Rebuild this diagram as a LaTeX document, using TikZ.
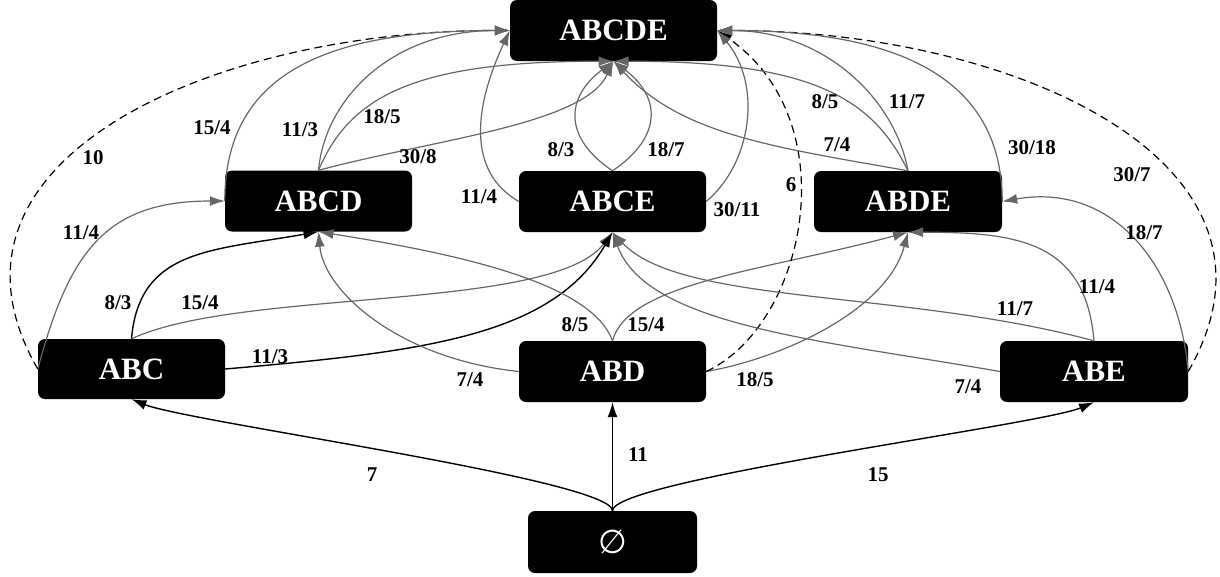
\documentclass[tikz,border=0pt]{standalone}
\usepackage{fontspec}
\setmainfont{Liberation Serif}
\newfontfamily\symf{DejaVu Sans}
\usetikzlibrary{arrows.meta}
\definecolor{gline}{HTML}{666666}
\tikzset{
  st/.style={fill=black, rounded corners=7pt, text=white, font=\bfseries\fontsize{31}{31}\selectfont, minimum height=61pt, inner sep=0pt},
  lab/.style={font=\bfseries\fontsize{21}{21}\selectfont, inner sep=0pt},
  tip/.style={-{Latex[length=15pt,width=10pt]}},
  ge/.style={draw=gline, line width=1.2pt, tip},
  be/.style={draw=black, line width=1.4pt, tip},
  de/.style={draw=black, line width=1.2pt, dash pattern=on 8pt off 5pt, tip},
}
\begin{document}
\begin{tikzpicture}[x=1pt,y=1pt]
\useasboundingbox (0,0) rectangle (1220,-576);
% nodes
\node[st, minimum width=207pt] (ABCDE) at (613.5,-30.5) {ABCDE};
\node[st, minimum width=187pt] (ABCD) at (318.5,-201) {ABCD};
\node[st, minimum width=187pt] (ABCE) at (612.5,-201.5) {ABCE};
\node[st, minimum width=188pt] (ABDE) at (908,-201.5) {ABDE};
\node[st, minimum width=187pt, minimum height=60pt] (ABC) at (131.5,-369) {ABC};
\node[st, minimum width=187pt] (ABD) at (612.5,-371.5) {ABD};
\node[st, minimum width=188pt] (ABE) at (1094,-371.5) {ABE};
\node[st, minimum width=169pt, minimum height=62pt, font=\symf\fontsize{33}{33}\selectfont] (E) at (612.5,-542) {∅};
% edges from the empty set
\draw[be] (E.north) to[out=90,in=-22,out distance=31pt,in distance=61pt] (ABC.south);
\draw[be] (E.north) -- (ABD.south);
\draw[be] (E.north) to[out=90,in=-157,out distance=31pt,in distance=59pt] (ABE.south);
% edges from ABC
\draw[ge] (ABC.west) to[out=75,in=180,out distance=120pt,in distance=120pt] (ABCD.west);
\draw[de] (ABC.west) to[out=120,in=180,out distance=240pt,in distance=300pt] (ABCDE.west);
\draw[be] (ABC.north) to[out=85,in=190,out distance=90pt,in distance=110pt] (ABCD.south);
\draw[ge] (ABC.north) to[out=25,in=-127,out distance=120pt,in distance=100pt] (ABCE.south);
\draw[be] (ABC.east) to[out=5,in=-120,out distance=200pt,in distance=120pt] (ABCE.south);
% edges from ABD
\draw[ge] (ABD.north) to[out=110,in=-9,out distance=60pt,in distance=150pt] (ABCD.south);
\draw[ge] (ABD.north) to[out=75,in=195,out distance=60pt,in distance=150pt] (ABDE.south);
\draw[ge] (ABD.west) to[out=174,in=-85,out distance=120pt,in distance=60pt] (ABCD.south);
\draw[ge] (ABD.east) to[out=10,in=-105,out distance=80pt,in distance=80pt] (ABDE.south);
\draw[de] (ABD.east) to[out=25,in=-35,out distance=110pt,in distance=160pt] (ABCDE.east);
% edges from ABE
\draw[ge] (ABE.east) to[out=95,in=10,out distance=110pt,in distance=110pt] (ABDE.east);
\draw[ge] (ABE.north) to[out=95,in=0,out distance=100pt,in distance=110pt] (ABDE.south);
\draw[ge] (ABE.north) to[out=165,in=-47,out distance=200pt,in distance=100pt] (ABCE.south);
\draw[ge] (ABE.west) to[out=170,in=-70,out distance=180pt,in distance=100pt] (ABCE.south);
\draw[de] (ABE.east) to[out=60,in=0,out distance=240pt,in distance=300pt] (ABCDE.east);
% edges from ABCD
\draw[ge] (ABCD.west) to[out=90,in=180,out distance=130pt,in distance=180pt] (ABCDE.west);
\draw[ge] (ABCD.north) to[out=85,in=180,out distance=70pt,in distance=120pt] (ABCDE.west);
\draw[ge] (ABCD.north) to[out=67,in=180,out distance=80pt,in distance=200pt] (ABCDE.south);
\draw[ge] (ABCD.north) to[out=15,in=-115,out distance=120pt,in distance=70pt] (ABCDE.south);
% edges from ABCE
\draw[ge] (ABCE.north) to[out=146,in=-143,out distance=60pt,in distance=60pt] (ABCDE.south);
\draw[ge] (ABCE.north) to[out=34,in=-37,out distance=60pt,in distance=60pt] (ABCDE.south);
\draw[ge] (ABCE.west) to[out=150,in=-115,out distance=60pt,in distance=85pt] (ABCDE.west);
\draw[ge] (ABCE.east) to[out=40,in=-50,out distance=60pt,in distance=70pt] (ABCDE.east);
% edges from ABDE
\draw[ge] (ABDE.north) to[out=116,in=0,out distance=80pt,in distance=200pt] (ABCDE.south);
\draw[ge] (ABDE.north) to[out=100,in=0,out distance=70pt,in distance=110pt] (ABCDE.east);
\draw[ge] (ABDE.north) to[out=170,in=-47,out distance=140pt,in distance=100pt] (ABCDE.south);
\draw[ge] (ABDE.east) to[out=90,in=0,out distance=130pt,in distance=170pt] (ABCDE.east);
% labels
\node[lab] (l1) at (372,-475) {7};
\node[lab] (l2) at (638,-455) {11};
\node[lab] (l3) at (878,-475) {15};
\node[lab] (l4) at (81,-233) {11/4};
\node[lab] (l5) at (93,-158) {10};
\node[lab] (l6) at (118,-303) {8/3};
\node[lab] (l7) at (200,-303) {15/4};
\node[lab] (l8) at (270,-357) {11/3};
\node[lab] (l9) at (212,-128) {15/4};
\node[lab] (l10) at (300,-130) {11/3};
\node[lab] (l11) at (382,-117) {18/5};
\node[lab] (l12) at (418,-157) {30/8};
\node[lab] (l13) at (561,-150) {8/3};
\node[lab] (l14) at (479,-197) {11/4};
\node[lab] (l15) at (666,-150) {18/7};
\node[lab] (l16) at (737,-210) {30/11};
\node[lab] (l17) at (791,-185) {6};
\node[lab] (l18) at (825,-102) {8/5};
\node[lab] (l19) at (907,-102) {11/7};
\node[lab] (l20) at (837,-145) {7/4};
\node[lab] (l21) at (1032,-148) {30/18};
\node[lab] (l22) at (1132,-175) {30/7};
\node[lab] (l23) at (1144,-233) {18/7};
\node[lab] (l24) at (1097,-287) {11/4};
\node[lab] (l25) at (1015,-309) {11/7};
\node[lab] (l26) at (968,-387) {7/4};
\node[lab] (l27) at (575,-325) {8/5};
\node[lab] (l28) at (646,-325) {15/4};
\node[lab] (l29) at (470,-380) {7/4};
\node[lab] (l30) at (755,-380) {18/5};
\end{tikzpicture}
\end{document}
